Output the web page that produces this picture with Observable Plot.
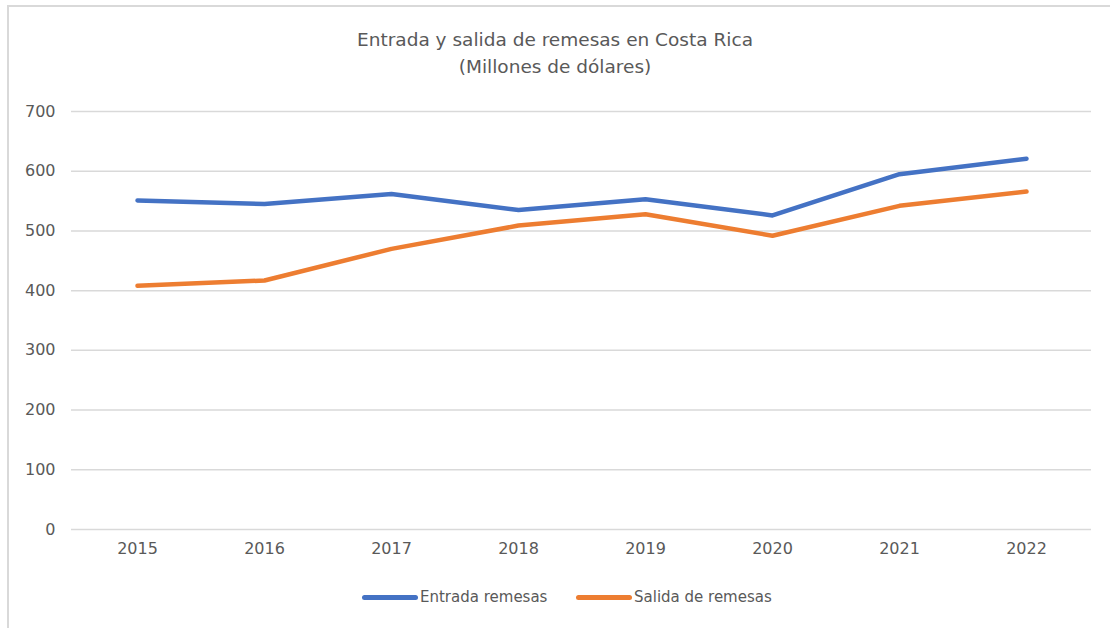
<!DOCTYPE html>
<html>
<head>
<meta charset="utf-8">
<script src="https://cdn.jsdelivr.net/npm/d3@7"></script>
<script src="https://cdn.jsdelivr.net/npm/@observablehq/plot@0.6"></script>
<style>
  html, body { margin: 0; padding: 0; background: #fff; }
  #wrap { position: relative; width: 1110px; height: 628px; overflow: hidden; font-family: "DejaVu Sans", sans-serif; color: #595959; }
  #frame { position: absolute; left: 7px; top: 5px; width: 1110px; height: 640px; border-top: 2px solid #d9d9d9; border-left: 2px solid #d9d9d9; box-sizing: border-box; }
  #title { position: absolute; left: 0; top: 26px; width: 1110px; text-align: center; font-size: 18.5px; line-height: 27px; color: #595959; }
  #chart { position: absolute; left: 0; top: 90px; }
  #legend { position: absolute; top: 586px; left: 0; width: 1110px; height: 22px; font-size: 15px; color: #595959; }
  .item { position: absolute; top: 0; display: flex; align-items: center; height: 22px; }
  .swatch { width: 56px; height: 5px; border-radius: 3px; margin-right: 2px; }
</style>
</head>
<body>
<div id="wrap">
  <div id="frame"></div>
  <div id="title">Entrada y salida de remesas en Costa Rica<br>(Millones de dólares)</div>
  <div id="chart"></div>
  <div id="legend"></div>
</div>
<script>
const years = ["2015", "2016", "2017", "2018", "2019", "2020", "2021", "2022"];
const entrada = [551, 545, 562, 535, 553, 526, 595, 621];
const salida = [408, 417, 470, 509, 528, 492, 542, 566];
const seriesNames = ["Entrada remesas", "Salida de remesas"];
const seriesColors = ["#4472c4", "#ed7d31"];
const yTicks = [0, 100, 200, 300, 400, 500, 600, 700];

const data = [];
years.forEach((yr, i) => {
  data.push({year: yr, value: entrada[i], series: seriesNames[0]});
  data.push({year: yr, value: salida[i], series: seriesNames[1]});
});

const chart = Plot.plot({
  width: 1110,
  height: 480,
  marginLeft: 71,
  marginRight: 19,
  marginTop: 21,
  marginBottom: 41,
  style: {fontFamily: "DejaVu Sans, sans-serif", fontSize: "16px", color: "#595959", background: "transparent"},
  x: {type: "point", domain: years, padding: 0.5, label: null, tickSize: 0, tickPadding: 13},
  y: {domain: [0, 700], ticks: yTicks, label: null, tickSize: 0, tickPadding: 16},
  color: {domain: seriesNames, range: seriesColors},
  marks: [
    Plot.ruleY(yTicks, {stroke: "#d9d9d9", strokeWidth: 1.5, strokeOpacity: 1}),
    Plot.axisX({tickSize: 0, tickPadding: 13, fontSize: 16, label: null}),
    Plot.axisY({ticks: yTicks, tickSize: 0, tickPadding: 16, fontSize: 16, label: null}),
    Plot.line(data, {x: "year", y: "value", z: "series", stroke: "series", strokeWidth: 4.5, strokeLinecap: "round", strokeLinejoin: "round"})
  ]
});
document.getElementById("chart").appendChild(chart);

const legend = document.getElementById("legend");
const lefts = [362, 576];
seriesNames.forEach((name, i) => {
  const item = document.createElement("div");
  item.className = "item";
  item.style.left = lefts[i] + "px";
  const sw = document.createElement("div");
  sw.className = "swatch";
  sw.style.background = seriesColors[i];
  const tx = document.createElement("span");
  tx.textContent = name;
  item.appendChild(sw);
  item.appendChild(tx);
  legend.appendChild(item);
});
</script>
</body>
</html>
